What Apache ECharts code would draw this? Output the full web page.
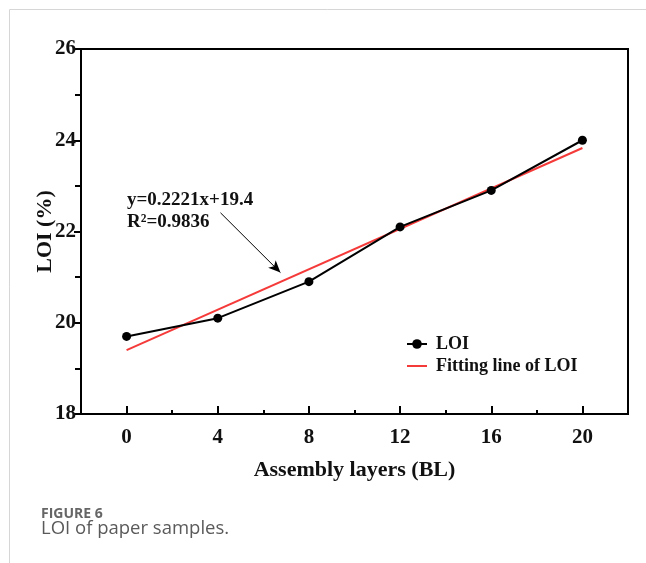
<!DOCTYPE html>
<html>
<head>
<meta charset="utf-8">
<script src="https://cdn.jsdelivr.net/npm/echarts@6/dist/echarts.min.js"></script>
<style>
html,body{margin:0;padding:0;background:#fff;}
#chart{width:646px;height:563px;}
</style>
</head>
<body>
<div id="chart"></div>
<script>
// Data
const layers = [0, 4, 8, 12, 16, 20];
const loiValues = [19.7, 20.1, 20.9, 22.1, 22.9, 24.0];
const fitX = [0, 20];
const fitY = [19.4, 23.83];
const xMajorTicks = [0, 4, 8, 12, 16, 20];
const xMinorTicks = [2, 6, 10, 14, 18];
const arrowFrom = [4.12, 22.41];
const arrowTo = [6.75, 21.1];

const serif = '"Liberation Serif", "Times New Roman", serif';

const chart = echarts.init(document.getElementById('chart'));
chart.setOption({
  animation: false,
  backgroundColor: '#fff',
  grid: {
    left: 81, right: 18, top: 49, bottom: 149,
    show: true, borderColor: '#000', borderWidth: 2, backgroundColor: 'transparent'
  },
  xAxis: [{
    type: 'value', min: -2, max: 22,
    name: 'Assembly layers (BL)', nameLocation: 'middle', nameGap: 45,
    nameTextStyle: {fontFamily: serif, fontWeight: 'bold', fontSize: 22, color: '#111'},
    axisLine: {show: true, onZero: false, lineStyle: {color: '#000', width: 2}},
    axisTick: {show: true, inside: true, length: 8, customValues: xMajorTicks, lineStyle: {color: '#000', width: 2}},
    axisLabel: {show: true, customValues: xMajorTicks, margin: 13, fontFamily: serif, fontWeight: 'bold', fontSize: 21, color: '#111'},
    splitLine: {show: false}
  }, {
    type: 'value', min: -2, max: 22, position: 'bottom',
    axisLine: {show: false},
    axisTick: {show: true, inside: true, length: 4, customValues: xMinorTicks, lineStyle: {color: '#000', width: 2}},
    axisLabel: {show: false},
    splitLine: {show: false}
  }],
  yAxis: {
    type: 'value', min: 18, max: 26, interval: 2,
    name: 'LOI (%)', nameLocation: 'middle', nameGap: 25, nameMoveOverlap: false,
    nameTextStyle: {fontFamily: serif, fontWeight: 'bold', fontSize: 22, color: '#111'},
    axisLine: {show: true, onZero: false, lineStyle: {color: '#000', width: 2}},
    axisTick: {show: true, inside: false, length: 7, lineStyle: {color: '#000', width: 2}},
    minorTick: {show: true, splitNumber: 2, length: 6, lineStyle: {color: '#000', width: 2}},
    axisLabel: {margin: 5, fontFamily: serif, fontWeight: 'bold', fontSize: 21, color: '#111'},
    splitLine: {show: false}, minorSplitLine: {show: false}
  },
  legend: {
    orient: 'vertical', left: 401, top: 330,
    itemWidth: 20, itemHeight: 12, itemGap: 4,
    textStyle: {fontFamily: serif, fontWeight: 'bold', fontSize: 18, color: '#111', padding: [0, 0, 0, 4]},
    data: [
      {name: 'LOI'},
      {name: 'Fitting line of LOI', icon: 'path://M0,0H20V2H0Z'}
    ]
  },
  series: [{
    name: 'Fitting line of LOI', type: 'line',
    data: fitX.map((x, i) => [x, fitY[i]]),
    symbol: 'none', lineStyle: {color: '#f53a3a', width: 2}, itemStyle: {color: '#f53a3a'},
    z: 2
  }, {
    name: 'LOI', type: 'line',
    data: layers.map((x, i) => [x, loiValues[i]]),
    symbol: 'circle', symbolSize: 9,
    lineStyle: {color: '#000', width: 2}, itemStyle: {color: '#000'},
    z: 3,
    markLine: {
      silent: true, symbol: ['none', 'arrow'], symbolSize: [8, 12],
      label: {show: false},
      lineStyle: {color: '#000', width: 1, type: 'solid'},
      data: [[{coord: arrowFrom}, {coord: arrowTo}]]
    }
  }],
  graphic: [
    {type: 'line', shape: {x1: 9.5, y1: 9.5, x2: 646, y2: 9.5}, style: {stroke: '#d6d6d6', lineWidth: 1}},
    {type: 'line', shape: {x1: 9.5, y1: 9.5, x2: 9.5, y2: 563}, style: {stroke: '#d6d6d6', lineWidth: 1}},
    {type: 'text', left: 127, top: 191, style: {text: 'y=0.2221x+19.4', font: 'bold 19px ' + serif, fill: '#111'}},
    {type: 'text', left: 127, top: 213, style: {text: 'R²=0.9836', font: 'bold 19px ' + serif, fill: '#111'}},
    {type: 'text', left: 41, top: 507, style: {text: 'FIGURE 6', font: 'bold 14px "Open Sans", sans-serif', fill: '#666'}},
    {type: 'text', left: 41, top: 519, style: {text: 'LOI of paper samples.', font: '18.5px "Open Sans", sans-serif', fill: '#5a5a5a'}}
  ]
});
</script>
</body>
</html>
